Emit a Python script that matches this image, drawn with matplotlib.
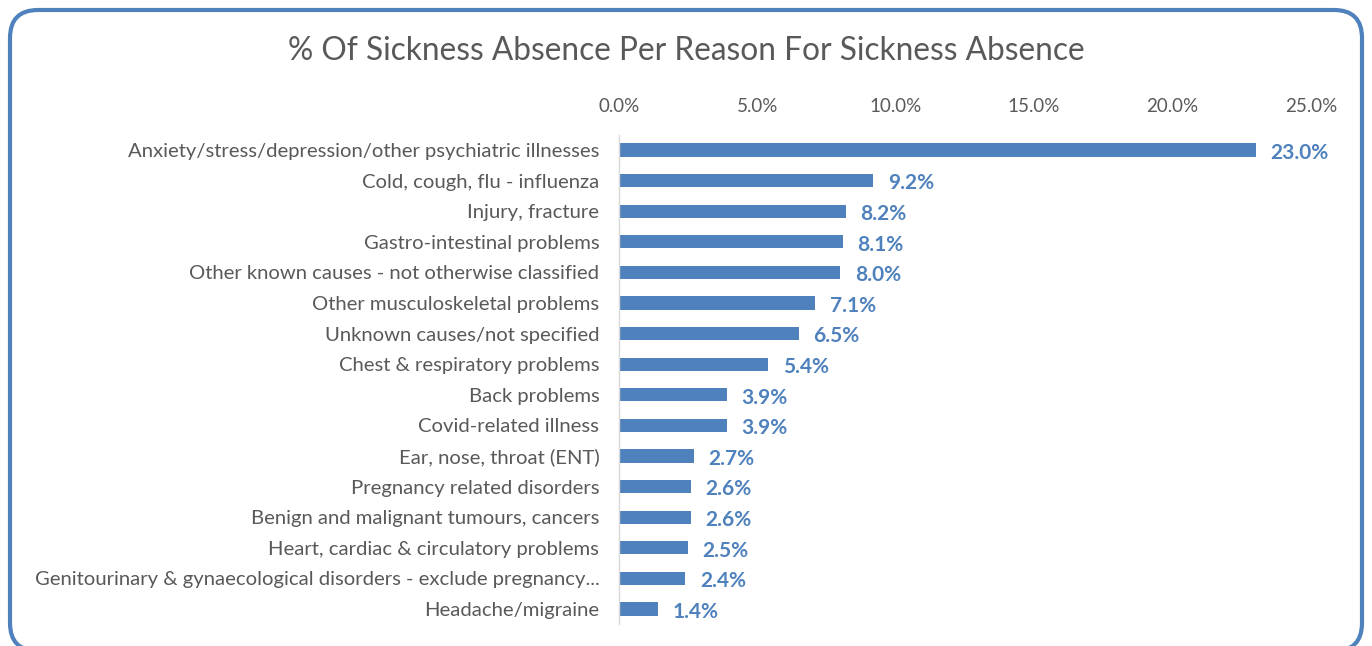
import matplotlib
matplotlib.use("Agg")
import matplotlib.pyplot as plt
from matplotlib.patches import FancyBboxPatch
from matplotlib.ticker import FuncFormatter

categories = [
    "Anxiety/stress/depression/other psychiatric illnesses",
    "Cold, cough, flu - influenza",
    "Injury, fracture",
    "Gastro-intestinal problems",
    "Other known causes - not otherwise classified",
    "Other musculoskeletal problems",
    "Unknown causes/not specified",
    "Chest & respiratory problems",
    "Back problems",
    "Covid-related illness",
    "Ear, nose, throat (ENT)",
    "Pregnancy related disorders",
    "Benign and malignant tumours, cancers",
    "Heart, cardiac & circulatory problems",
    "Genitourinary & gynaecological disorders - exclude pregnancy...",
    "Headache/migraine",
]
values = [23.0, 9.2, 8.2, 8.1, 8.0, 7.1, 6.5, 5.4, 3.9, 3.9, 2.7, 2.6, 2.6, 2.5, 2.4, 1.4]
xticks = [0, 5, 10, 15, 20, 25]
title = "% Of Sickness Absence Per Reason For Sickness Absence"

plt.rcParams['font.family'] = ['Lato', 'DejaVu Sans']
blue = "#4F81BD"
grey = "#595959"

fig = plt.figure(figsize=(13.72, 6.46), dpi=100)
fig.patch.set_facecolor("white")

border = FancyBboxPatch((0.10, -0.05), 13.52, 6.41,
                        boxstyle="round,pad=0,rounding_size=0.28",
                        transform=fig.dpi_scale_trans, facecolor="none",
                        edgecolor=blue, linewidth=3.0, clip_on=False)
fig.patches.append(border)

ax = fig.add_axes([0.451, 0.0336, 0.5045, 0.7579])
y = list(range(len(categories)))
ax.barh(y, values, height=0.43, color=blue)
ax.set_ylim(len(categories) - 0.5, -0.5)
ax.set_xlim(0, 25)
ax.set_yticks(y)
ax.set_yticklabels(categories, fontsize=14.6, color=grey)
ax.set_xticks(xticks)
ax.xaxis.set_major_formatter(FuncFormatter(lambda v, p: f"{v:.1f}%"))
ax.xaxis.tick_top()
ax.tick_params(axis='x', length=0, labelsize=13.5, labelcolor=grey, pad=14)
ax.tick_params(axis='y', length=0, pad=14)
for s in ["top", "right", "bottom"]:
    ax.spines[s].set_visible(False)
ax.spines["left"].set_color("#D9D9D9")
ax.spines["left"].set_linewidth(1)

for yi, v in zip(y, values):
    ax.annotate(f"{v:.1f}%", (v, yi), xytext=(10.5, -2), textcoords="offset points",
                va="center", ha="left", fontsize=15, fontweight="bold", color=blue)

fig.text(0.5, 0.921, title, ha="center", va="center", fontsize=22.8, color=grey)

fig.savefig("out.png", dpi=100)
